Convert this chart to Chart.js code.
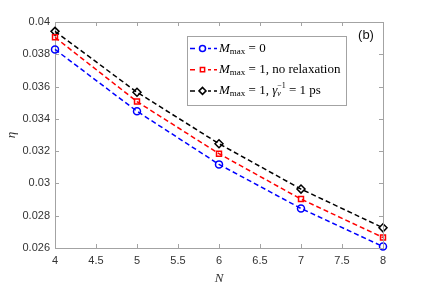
<!DOCTYPE html>
<html>
<head>
<meta charset="utf-8">
<script src="https://cdn.jsdelivr.net/npm/chart.js@4.4.1/dist/chart.umd.min.js"></script>
<style>
  html, body { margin: 0; padding: 0; background: #fff; }
  #wrap { width: 424px; height: 286px; position: relative; }
</style>
</head>
<body>
<div id="wrap"><canvas id="chart-eta"></canvas></div>
<script>
// values
var nValues = [4, 5, 6, 7, 8];
var etaM0 = [0.0383, 0.03447, 0.03118, 0.02845, 0.02609];
var etaM1NoRelax = [0.03905, 0.03507, 0.03184, 0.02903, 0.02665];
var etaM1Relax = [0.03942, 0.03565, 0.03246, 0.02965, 0.02725];
var xTicks = [4, 4.5, 5, 5.5, 6, 6.5, 7, 7.5, 8];
var yTicks = [0.026, 0.028, 0.03, 0.032, 0.034, 0.036, 0.038, 0.04];
var yTickLabels = ['0.026', '0.028', '0.03', '0.032', '0.034', '0.036', '0.038', '0.04'];

var axisGray = '#a3a3a3';
var textGray = '#333333';
var serif = '"Liberation Serif", "DejaVu Serif", serif';

function toPoints(ys) {
  return nValues.map(function(n, i) { return { x: n, y: ys[i] }; });
}

// legend rows: each is a list of text pieces {t, size, italic, dy}
var legendRows = [
  { color: '#0000ff', style: 'circle', parts: [
    { t: 'M', size: 13, italic: true }, { t: 'max', size: 9, dy: 3 }, { t: ' = 0', size: 13 } ] },
  { color: '#ff0000', style: 'rect', parts: [
    { t: 'M', size: 13, italic: true }, { t: 'max', size: 9, dy: 3 }, { t: ' = 1, no relaxation', size: 13 } ] },
  { color: '#000000', style: 'rectRot', parts: [
    { t: 'M', size: 13, italic: true }, { t: 'max', size: 9, dy: 3 }, { t: ' = 1, ', size: 13 },
    { t: 'γ', size: 13, italic: true }, { t: 'v', size: 8, italic: true, dy: 3 },
    { t: '−1', size: 8, dy: -5, overlap: true }, { t: ' = 1 ps', size: 13 } ] }
];

var frameAndLegend = {
  id: 'frameAndLegend',
  afterDraw: function(chart) {
    var ctx = chart.ctx;
    var a = chart.chartArea;
    var xs = chart.scales.x, ys = chart.scales.y;
    ctx.save();
    // box round the axes
    ctx.strokeStyle = axisGray;
    ctx.lineWidth = 1;
    ctx.beginPath();
    ctx.moveTo(a.left, a.top + 0.5); ctx.lineTo(a.right + 0.5, a.top + 0.5);
    ctx.lineTo(a.right + 0.5, a.bottom);
    ctx.stroke();
    // inward ticks
    ctx.beginPath();
    xTicks.forEach(function(v) {
      var px = Math.round(xs.getPixelForValue(v)) + 0.5;
      ctx.moveTo(px, a.bottom); ctx.lineTo(px, a.bottom - 4);
      ctx.moveTo(px, a.top); ctx.lineTo(px, a.top + 4);
    });
    yTicks.forEach(function(v) {
      var py = Math.round(ys.getPixelForValue(v)) + 0.5;
      ctx.moveTo(a.left, py); ctx.lineTo(a.left + 4, py);
      ctx.moveTo(a.right, py); ctx.lineTo(a.right - 4, py);
    });
    ctx.stroke();

    // (b) label
    ctx.fillStyle = '#111';
    ctx.font = '13px "Liberation Sans", Arial, sans-serif';
    ctx.textAlign = 'center';
    ctx.textBaseline = 'middle';
    ctx.fillText('(b)', a.right - 17, a.top + 13);

    // legend box
    var bx = 187.5, by = 36.5, bw = 159, bh = 69;
    ctx.fillStyle = '#fff';
    ctx.fillRect(bx, by, bw, bh);
    ctx.strokeStyle = axisGray;
    ctx.strokeRect(bx, by, bw, bh);
    legendRows.forEach(function(row, i) {
      var y = 48.5 + i * 21.2;
      ctx.strokeStyle = row.color;
      ctx.lineWidth = 1.5;
      ctx.setLineDash([5, 3]);
      ctx.beginPath(); ctx.moveTo(190, y); ctx.lineTo(217, y); ctx.stroke();
      ctx.setLineDash([]);
      ctx.fillStyle = '#fff';
      ctx.fillRect(197, y - 5, 11, 10);
      ctx.strokeStyle = row.color;
      Chart.helpers.drawPoint(ctx, { pointStyle: row.style, radius: row.style === 'rectRot' ? 3.5 : 3, borderWidth: 1.5 }, 202.5, y);
      var tx = 219;
      var lastStart = tx;
      ctx.fillStyle = '#000';
      ctx.textAlign = 'left';
      ctx.textBaseline = 'middle';
      row.parts.forEach(function(p) {
        ctx.font = (p.italic ? 'italic ' : '') + p.size + 'px ' + serif;
        var x0 = p.overlap ? lastStart : tx;
        ctx.fillText(p.t, x0, y + (p.dy || 0));
        var w = ctx.measureText(p.t).width;
        if (p.overlap) {
          tx = Math.max(tx, x0 + w);
        } else {
          lastStart = x0;
          tx = x0 + w;
        }
      });
    });
    ctx.restore();
  }
};

function series(label, data, color, style, radius) {
  return {
    label: label,
    data: toPoints(data),
    borderColor: color,
    backgroundColor: color,
    pointBorderColor: color,
    pointBackgroundColor: 'rgba(0,0,0,0)',
    pointStyle: style,
    pointRadius: radius,
    pointBorderWidth: 1.5,
    borderWidth: 1.5,
    borderDash: [5, 3],
    tension: 0,
    clip: false
  };
}

var ctx = document.getElementById('chart-eta').getContext('2d');
new Chart(ctx, {
  type: 'line',
  data: {
    datasets: [
      series('Mmax = 0', etaM0, '#0000ff', 'circle', 3.5),
      series('Mmax = 1, no relaxation', etaM1NoRelax, '#ff0000', 'rect', 3.5),
      series('Mmax = 1, γv^-1 = 1 ps', etaM1Relax, '#000000', 'rectRot', 4)
    ]
  },
  options: {
    responsive: true,
    maintainAspectRatio: false,
    animation: false,
    layout: { padding: { left: 4, right: 41, top: 22, bottom: 0 } },
    plugins: { legend: { display: false }, tooltip: { enabled: false } },
    scales: {
      x: {
        type: 'linear',
        min: 4, max: 8,
        afterBuildTicks: function(scale) { scale.ticks = xTicks.map(function(v) { return { value: v }; }); },
        afterFit: function(scale) { scale.height = 38; },
        ticks: {
          color: textGray,
          padding: 6,
          maxRotation: 0,
          font: { family: '"Liberation Sans", Arial, sans-serif', size: 11 },
          callback: function(v) { return String(v); }
        },
        grid: { display: false, drawTicks: false },
        border: { display: true, color: axisGray, width: 1 },
        title: {
          display: true, text: 'N', color: textGray, padding: { top: 0, bottom: 0 },
          font: { family: serif, size: 13, style: 'italic' }
        }
      },
      y: {
        type: 'linear',
        min: 0.026, max: 0.04,
        afterBuildTicks: function(scale) { scale.ticks = yTicks.map(function(v) { return { value: v }; }); },
        afterFit: function(scale) { scale.width = 51; },
        ticks: {
          color: textGray,
          padding: 5,
          font: { family: '"Liberation Sans", Arial, sans-serif', size: 11 },
          callback: function(v, i) { return yTickLabels[i]; }
        },
        grid: { display: false, drawTicks: false },
        border: { display: true, color: axisGray, width: 1 },
        title: {
          display: true, text: 'η', color: textGray, padding: { top: 0, bottom: 0 },
          font: { family: serif, size: 13, style: 'italic' }
        }
      }
    }
  },
  plugins: [frameAndLegend]
});
</script>
</body>
</html>
